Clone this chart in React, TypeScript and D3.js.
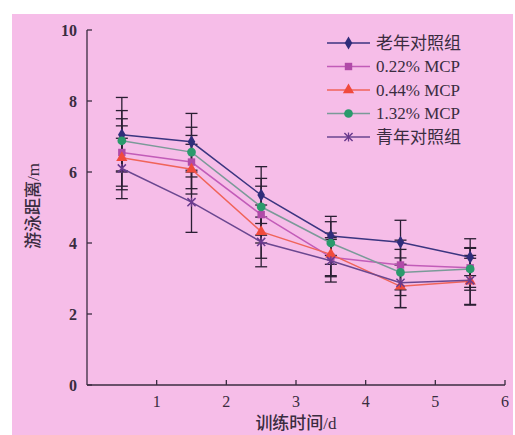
import { useEffect, useRef } from "react"
import * as d3 from "d3"

// training day (points sit mid-day)
const DAYS = [0.5, 1.5, 2.5, 3.5, 4.5, 5.5]
const X_TICKS = [1, 2, 3, 4, 5, 6]
const Y_TICKS = [0, 2, 4, 6, 8, 10]

const SERIES_NAMES = ["老年对照组", "0.22% MCP", "0.44% MCP", "1.32% MCP", "青年对照组"]

const OLD = [7.05, 6.85, 5.35, 4.2, 4.02, 3.6]
const MCP022 = [6.55, 6.28, 4.8, 3.6, 3.38, 3.3]
const MCP044 = [6.4, 6.08, 4.32, 3.68, 2.78, 2.92]
const MCP132 = [6.88, 6.56, 5.02, 4.0, 3.17, 3.27]
const YOUNG = [6.1, 5.15, 4.03, 3.5, 2.88, 2.95]

const OLD_SD = [1.05, 0.8, 0.8, 0.55, 0.62, 0.52]
const MCP022_SD = [0.95, 0.75, 0.8, 0.55, 0.7, 0.55]
const MCP044_SD = [0.9, 0.7, 0.75, 0.6, 0.6, 0.65]
const MCP132_SD = [0.85, 0.7, 0.8, 0.6, 0.65, 0.6]
const YOUNG_SD = [0.85, 0.85, 0.7, 0.6, 0.7, 0.7]

const BG = "#f6bde8"
const INK = "#3a2c40"
const BAR = "#2a1f33"
const FONT = "'Liberation Serif', 'Times New Roman', 'Noto Sans CJK SC', serif"

type Marker = "diamond" | "square" | "triangle" | "circle" | "star"

const STYLE: { line: string; fill: string; marker: Marker }[] = [
  { line: "#3b3580", fill: "#2f2d7a", marker: "diamond" },
  { line: "#c25cb8", fill: "#b04aa8", marker: "square" },
  { line: "#f0645a", fill: "#f04a3c", marker: "triangle" },
  { line: "#7a9a98", fill: "#2a9a6c", marker: "circle" },
  { line: "#6a4790", fill: "#6a3a8e", marker: "star" },
]

function symbolFor(m: Marker) {
  if (m === "diamond") return d3.symbol(d3.symbolDiamond, 50)
  if (m === "square") return d3.symbol(d3.symbolSquare, 55)
  if (m === "triangle") return d3.symbol(d3.symbolTriangle, 55)
  if (m === "circle") return d3.symbol(d3.symbolCircle, 60)
  return d3.symbol(d3.symbolTimes, 45)
}

export default function App() {
  const ref = useRef<SVGSVGElement>(null)

  useEffect(() => {
    if (!ref.current) return
    const svg = d3.select(ref.current)
    svg.selectAll("*").remove()

    const W = 515
    const H = 435
    const x = d3.scaleLinear().domain([0, 6]).range([87, 505])
    const y = d3.scaleLinear().domain([0, 10]).range([385, 30])

    svg.attr("width", W).attr("height", H)
    svg.append("rect").attr("width", W).attr("height", H).attr("fill", "#fff")
    svg.append("rect").attr("x", 12).attr("y", 14).attr("width", W - 14).attr("height", H - 14).attr("fill", BG)

    const values = [OLD, MCP022, MCP044, MCP132, YOUNG]
    const sds = [OLD_SD, MCP022_SD, MCP044_SD, MCP132_SD, YOUNG_SD]

    // error bars first so markers sit on top
    const bars = svg.append("g").attr("stroke", BAR).attr("stroke-width", 1.3)
    values.forEach((vals, si) => {
      vals.forEach((v, i) => {
        const cx = x(DAYS[i])
        const lo = y(v - sds[si][i])
        const hi = y(v + sds[si][i])
        bars.append("line").attr("x1", cx).attr("x2", cx).attr("y1", lo).attr("y2", hi)
        bars.append("line").attr("x1", cx - 6).attr("x2", cx + 6).attr("y1", lo).attr("y2", lo)
        bars.append("line").attr("x1", cx - 6).attr("x2", cx + 6).attr("y1", hi).attr("y2", hi)
      })
    })

    const line = d3
      .line<number>()
      .x((_, i) => x(DAYS[i]))
      .y((d) => y(d))

    values.forEach((vals, si) => {
      const st = STYLE[si]
      svg
        .append("path")
        .attr("d", line(vals))
        .attr("fill", "none")
        .attr("stroke", st.line)
        .attr("stroke-width", 1.5)
      const sym = symbolFor(st.marker)
      svg
        .append("g")
        .selectAll("path")
        .data(vals)
        .join("path")
        .attr("transform", (d, i) => `translate(${x(DAYS[i])},${y(d)})`)
        .attr("d", sym() as string)
        .attr("fill", st.marker === "star" ? "none" : st.fill)
        .attr("stroke", st.marker === "star" ? st.fill : "none")
        .attr("stroke-width", 1.5)
    })

    // star marker also has a vertical stroke
    svg
      .append("g")
      .selectAll("line")
      .data(YOUNG)
      .join("line")
      .attr("x1", (_, i) => x(DAYS[i]))
      .attr("x2", (_, i) => x(DAYS[i]))
      .attr("y1", (d) => y(d) - 4.5)
      .attr("y2", (d) => y(d) + 4.5)
      .attr("stroke", STYLE[4].fill)
      .attr("stroke-width", 1.3)

    // axes
    const axis = svg.append("g").attr("stroke", INK).attr("stroke-width", 1.3).attr("fill", "none")
    axis.append("line").attr("x1", x(0)).attr("x2", x(6)).attr("y1", y(0)).attr("y2", y(0))
    axis.append("line").attr("x1", x(0)).attr("x2", x(0)).attr("y1", y(0)).attr("y2", y(10))
    X_TICKS.forEach((t) => {
      axis.append("line").attr("x1", x(t)).attr("x2", x(t)).attr("y1", y(0)).attr("y2", y(0) - 5)
    })
    Y_TICKS.forEach((t) => {
      axis.append("line").attr("x1", x(0)).attr("x2", x(0) + 5).attr("y1", y(t)).attr("y2", y(t))
    })

    svg
      .append("g")
      .selectAll("text")
      .data(X_TICKS)
      .join("text")
      .attr("x", (t) => x(t))
      .attr("y", y(0) + 22)
      .attr("text-anchor", "middle")
      .attr("font-family", FONT)
      .attr("font-size", 16)
      .attr("fill", INK)
      .text((t) => t)

    svg
      .append("g")
      .selectAll("text")
      .data(Y_TICKS)
      .join("text")
      .attr("x", x(0) - 10)
      .attr("y", (t) => y(t))
      .attr("dy", "0.35em")
      .attr("text-anchor", "end")
      .attr("font-family", FONT)
      .attr("font-size", 16)
      .attr("font-weight", 700)
      .attr("fill", INK)
      .text((t) => t)

    svg
      .append("text")
      .attr("x", 296)
      .attr("y", 429)
      .attr("text-anchor", "middle")
      .attr("font-family", FONT)
      .attr("font-size", 17)
      .attr("font-weight", 500)
      .attr("fill", INK)
      .text("训练时间/d")

    svg
      .append("text")
      .attr("transform", `translate(39, 206) rotate(-90)`)
      .attr("text-anchor", "middle")
      .attr("font-family", FONT)
      .attr("font-size", 17)
      .attr("font-weight", 500)
      .attr("fill", INK)
      .text("游泳距离/m")

    // legend
    const legend = svg.append("g").attr("transform", "translate(327, 43)")
    SERIES_NAMES.forEach((name, i) => {
      const st = STYLE[i]
      const g = legend.append("g").attr("transform", `translate(0, ${i * 23.5})`)
      g.append("line").attr("x1", 0).attr("x2", 43).attr("stroke", st.line).attr("stroke-width", 1.5)
      g.append("path")
        .attr("transform", "translate(21.5,0)")
        .attr("d", symbolFor(st.marker)() as string)
        .attr("fill", st.marker === "star" ? "none" : st.fill)
        .attr("stroke", st.marker === "star" ? st.fill : "none")
        .attr("stroke-width", 1.5)
      if (st.marker === "star") {
        g.append("line").attr("x1", 21.5).attr("x2", 21.5).attr("y1", -4.5).attr("y2", 4.5)
          .attr("stroke", st.fill).attr("stroke-width", 1.3)
      }
      g.append("text")
        .attr("x", 49)
        .attr("dy", "0.35em")
        .attr("font-family", FONT)
        .attr("font-size", 17)
        .attr("fill", INK)
        .text(name)
    })
  }, [])

  return (
    <div style={{ position: "absolute", left: 0, top: 0 }}>
      <svg ref={ref} style={{ display: "block" }} />
    </div>
  )
}
